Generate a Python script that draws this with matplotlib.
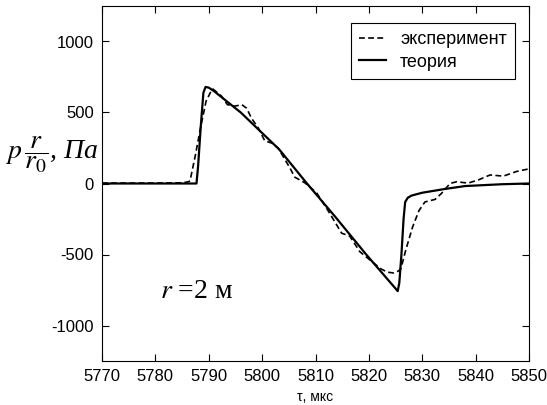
#!/usr/bin/python3
# -*- coding: utf-8 -*-

'''
Pressure profile at r = 2 m: experiment vs theory
'''

import matplotlib
matplotlib.use('Agg')
import matplotlib.pyplot as plt

# experiment (dashed)
exp_t = [5770, 5780, 5785, 5786.2, 5786.5, 5787.5, 5788.5, 5789.5, 5790.5,
         5790.8, 5792.4, 5793.5, 5794.9, 5796.2, 5797.1, 5798.0, 5799.3,
         5800.5, 5801.8, 5803.0, 5805.2, 5806.1, 5808.0, 5810.2, 5812.5,
         5814.9, 5816.4, 5818.3, 5819.6, 5822.2, 5823.5, 5824.7, 5825.6,
         5826.0, 5826.9, 5828.2, 5829.4, 5830.5, 5832.4, 5833.6, 5835.2,
         5836.4, 5838.6, 5840.5, 5842.7, 5845.2, 5847.7, 5849.6, 5850]
exp_p = [3, 3, 5, 12, 20, 200, 400, 580, 655,
         665, 615, 555, 545, 555, 530, 460, 390,
         300, 285, 250, 110, 45, 5, -65, -200,
         -350, -370, -480, -520, -600, -625, -630, -615,
         -600, -470, -305, -190, -130, -112, -70, 0,
         12, 3, 25, 60, 52, 85, 100, 100]

# theory (solid)
th_t = [5770, 5787.7, 5788.0, 5788.5, 5789.0, 5789.4, 5790.0, 5791.0,
        5796.0, 5803.2, 5808.4, 5813.6, 5819.5, 5825.0, 5825.4, 5825.7,
        5826.1, 5826.5, 5826.8, 5827.3, 5828.0, 5830.0, 5834.0, 5838.0,
        5845.0, 5850]
th_p = [0, 0, 120, 400, 640, 680, 675, 650,
        500, 240, 0, -230, -500, -740, -758, -700,
        -500, -250, -130, -100, -85, -65, -40, -18,
        -5, 0]

yticks = [-1000, -500, 0, 500, 1000]
xticks = list(range(5770, 5851, 10))

plt.rcParams['font.family'] = ['Liberation Sans', 'DejaVu Sans']
plt.rcParams['mathtext.fontset'] = 'stix'
plt.rcParams['axes.unicode_minus'] = False

fig = plt.figure(figsize=(5.47, 4.05), dpi=100)
ax = fig.add_axes([102 / 547, 44 / 405, 427 / 547, 355 / 405])

ax.plot(exp_t, exp_p, color='black', linestyle=(0, (3.5, 2)), linewidth=1.2,
        label='эксперимент')
ax.plot(th_t, th_p, color='black', linestyle='-', linewidth=1.6,
        label='теория')

ax.set_xlim(5770, 5850)
ax.set_ylim(-1250, 1250)
ax.set_xticks(xticks)
ax.set_yticks(yticks)
ax.tick_params(direction='in', top=True, right=True, length=5, width=0.8,
               labelsize=12, pad=6)
for s in ax.spines.values():
    s.set_linewidth(0.8)

ax.set_xlabel('τ, мкс', fontsize=10, labelpad=4)

# y label drawn horizontally to the left of the axis
ax.text(-0.118, 0.58, r'$p\,\dfrac{r}{r_0}$, Па', transform=ax.transAxes,
        fontsize=20, fontstyle='italic',
        family=['Liberation Serif', 'DejaVu Serif'],
        ha='center', va='center')

ax.text(5780.8, -760, r'$r$ =2 м', fontsize=20,
        family=['Liberation Serif', 'DejaVu Serif'], ha='left', va='center')

leg = ax.legend(loc='upper right', bbox_to_anchor=(0.967, 0.952),
                borderaxespad=0, fontsize=13, fancybox=False,
                edgecolor='black', framealpha=1, handlelength=1.5,
                handletextpad=0.75, labelspacing=0.3, borderpad=0.45)
leg.get_frame().set_linewidth(0.8)

fig.savefig('out.png', dpi=100)
